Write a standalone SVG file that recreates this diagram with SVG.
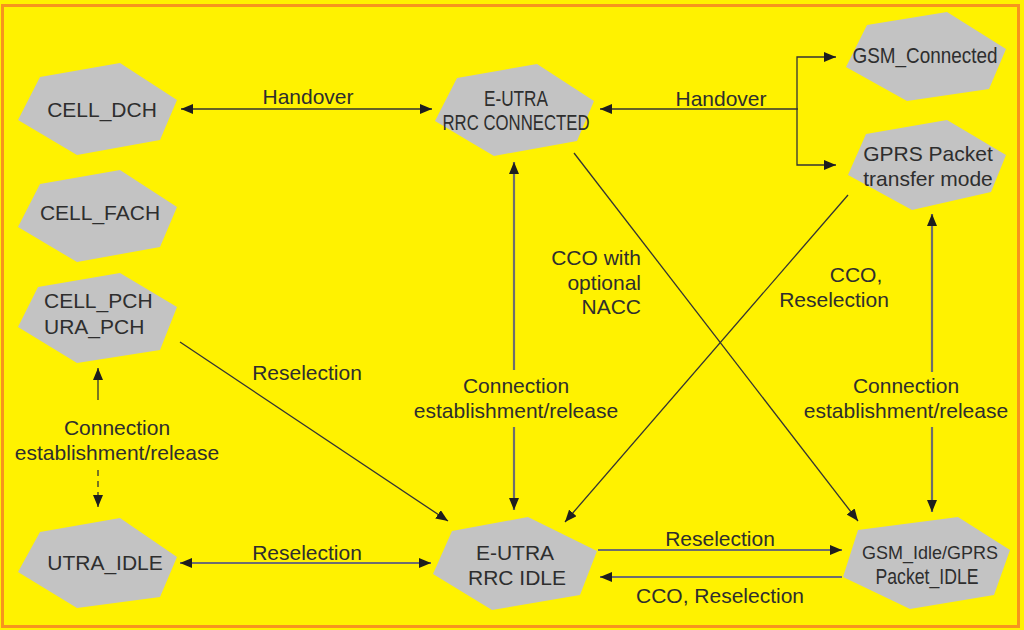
<svg xmlns="http://www.w3.org/2000/svg" width="1024" height="630" viewBox="0 0 1024 630">
<defs>
<marker id="ah" viewBox="0 0 12 10" refX="12" refY="5" markerWidth="12" markerHeight="10" markerUnits="userSpaceOnUse" orient="auto-start-reverse">
<path d="M0,0 L12,5 L0,10 z" fill="#1e1e1e"/>
</marker>
<style>
.node polygon{fill:#c3c3c3;stroke:none}
.node text{font-family:"Liberation Sans",Arial,sans-serif;font-size:21px;fill:#2e2e2e;text-anchor:middle}
.node text.n{font-size:22px}
.lbl{font-family:"Liberation Sans",Arial,sans-serif;font-size:21px;fill:#2e2e2e;text-anchor:middle}
.c{stroke:#333;stroke-width:1.3;fill:none}
.g{stroke:#6e6e6e;stroke-width:2.2;fill:none}
</style>
</defs>
<rect x="0" y="0" width="1024" height="630" fill="#fff200"/>
<rect x="2.5" y="5.5" width="1016" height="621" fill="#fff200" stroke="#f7941d" stroke-width="3"/>

<g id="connectors">
<line class="c" x1="181" y1="109" x2="432" y2="109" marker-start="url(#ah)" marker-end="url(#ah)"/>
<line class="c" x1="600" y1="109" x2="798" y2="109" marker-start="url(#ah)"/>
<path class="c" d="M836,57 H797 V165 H836" marker-start="url(#ah)" marker-end="url(#ah)"/>
<line class="g" x1="514" y1="162" x2="514" y2="370" marker-start="url(#ah)"/>
<line class="g" x1="514" y1="427" x2="514" y2="510" marker-end="url(#ah)"/>
<line class="c" x1="574" y1="153" x2="858" y2="521" marker-end="url(#ah)"/>
<line class="c" x1="848" y1="195" x2="565" y2="522" marker-end="url(#ah)"/>
<line class="g" x1="932" y1="214" x2="932" y2="372" marker-start="url(#ah)"/>
<line class="g" x1="932" y1="427" x2="932" y2="512" marker-end="url(#ah)"/>
<line class="c" x1="180" y1="342" x2="448" y2="521" marker-end="url(#ah)"/>
<line class="c" x1="98" y1="368" x2="98" y2="400" marker-start="url(#ah)"/>
<line class="c" x1="98" y1="470" x2="98" y2="507" stroke-dasharray="6,5" marker-end="url(#ah)"/>
<line class="g" x1="180" y1="563" x2="431" y2="563" marker-start="url(#ah)" marker-end="url(#ah)"/>
<line class="g" x1="598" y1="550" x2="842" y2="550" marker-end="url(#ah)"/>
<line class="g" x1="842" y1="577" x2="600" y2="577" marker-end="url(#ah)"/>
</g>

<g id="labels">
<text class="lbl" x="308" y="104">Handover</text>
<text class="lbl" x="721" y="106">Handover</text>
<text class="lbl" x="307" y="380">Reselection</text>
<text class="lbl" x="516" y="393">Connection</text>
<text class="lbl" x="516" y="418">establishment/release</text>
<text class="lbl" x="641" y="265" style="text-anchor:end">CCO with</text>
<text class="lbl" x="641" y="290" style="text-anchor:end">optional</text>
<text class="lbl" x="641" y="314" style="text-anchor:end">NACC</text>
<text class="lbl" x="856" y="282">CCO,</text>
<text class="lbl" x="834" y="307">Reselection</text>
<text class="lbl" x="906" y="393">Connection</text>
<text class="lbl" x="906" y="418">establishment/release</text>
<text class="lbl" x="117" y="435">Connection</text>
<text class="lbl" x="117" y="460">establishment/release</text>
<text class="lbl" x="307" y="560">Reselection</text>
<text class="lbl" x="720" y="546">Reselection</text>
<text class="lbl" x="720" y="603">CCO, Reselection</text>
</g>

<g id="cell_dch" class="node">
<polygon points="40,77 120,63 177,100 160,140 77,155 18,120"/>
<text x="102" y="117">CELL_DCH</text>
</g>
<g id="cell_fach" class="node">
<polygon points="40,184 120,170 177,207 160,247 77,262 18,227"/>
<text x="100" y="220">CELL_FACH</text>
</g>
<g id="cell_pch" class="node">
<polygon points="38,287 120,273 177,307 160,350 77,363 18,327"/>
<text x="44" y="308" style="text-anchor:start">CELL_PCH</text>
<text x="44" y="334" style="text-anchor:start">URA_PCH</text>
</g>
<g id="utra_idle" class="node">
<polygon points="40,532 120,518 177,557 160,597 77,608 18,572"/>
<text x="105" y="570">UTRA_IDLE</text>
</g>
<g id="eutra_connected" class="node">
<polygon points="457,78 537,64 594,101 577,141 494,156 435,121"/>
<text class="n" x="516" y="106" textLength="64" lengthAdjust="spacingAndGlyphs">E-UTRA</text>
<text class="n" x="516" y="130" textLength="147" lengthAdjust="spacingAndGlyphs">RRC CONNECTED</text>
</g>
<g id="gsm_connected" class="node">
<polygon points="867,25 947,12 1006,49 989,89 907,101 846,67"/>
<text class="n" x="925" y="63" textLength="145" lengthAdjust="spacingAndGlyphs">GSM_Connected</text>
</g>
<g id="gprs_transfer" class="node">
<polygon points="866,134 947,120 1006,155 991,192 912,210 848,175"/>
<text x="928" y="161">GPRS Packet</text>
<text x="928" y="186">transfer mode</text>
</g>
<g id="eutra_idle" class="node">
<polygon points="452,531 528,517 597,551 580,595 492,610 433,574"/>
<text x="515" y="560">E-UTRA</text>
<text x="517" y="585">RRC IDLE</text>
</g>
<g id="gsm_idle" class="node">
<polygon points="858,530 958,517 1010,550 994,595 910,609 843,577"/>
<text x="930" y="559" style="font-size:18px">GSM_Idle/GPRS</text>
<text class="n" x="927" y="584" textLength="103" lengthAdjust="spacingAndGlyphs">Packet_IDLE</text>
</g>
</svg>
